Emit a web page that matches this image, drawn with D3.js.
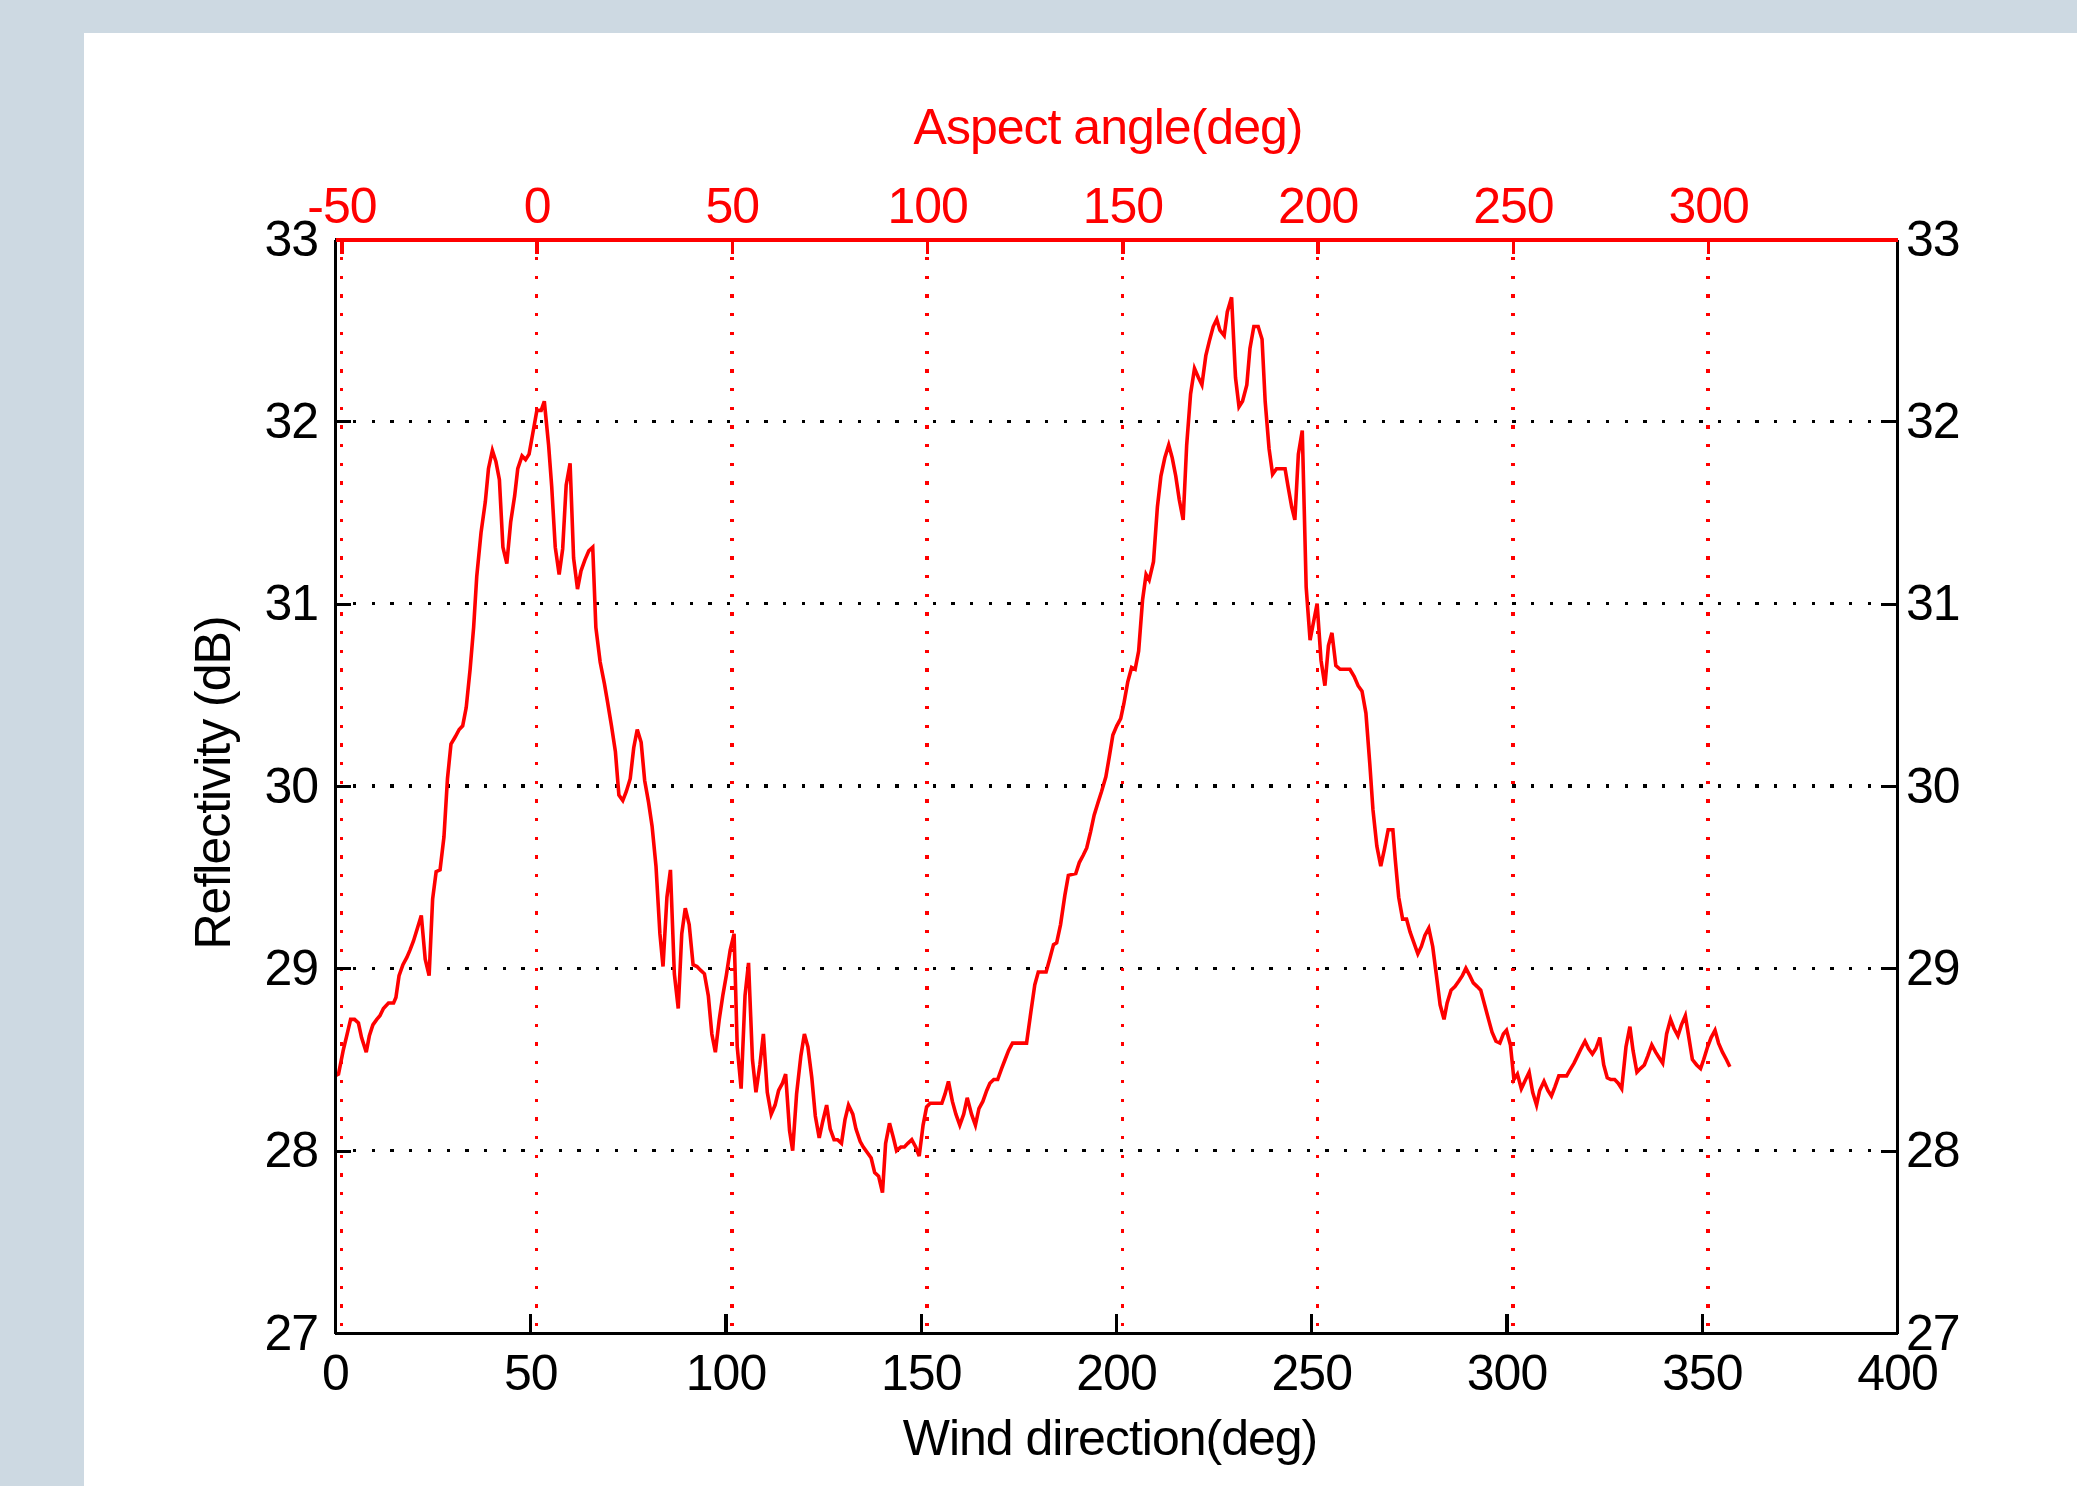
<!DOCTYPE html>
<html>
<head>
<meta charset="utf-8">
<script src="https://cdn.jsdelivr.net/npm/d3@7"></script>
<style>
  body { margin: 0; background: #cdd9e2; }
  svg { display: block; }
  text { font-family: "Liberation Sans", Arial, sans-serif; font-size: 50px; letter-spacing: -1px; }
</style>
</head>
<body>
<svg width="2077" height="1486"></svg>
<script>
// readings
const windDir = [
  0, 0.9, 2.1, 3, 4, 5, 6, 6.8, 8, 8.8,
  9.7, 10.7, 11.5, 12.4, 13.7, 15, 15.6, 16.4, 17.4, 18.4,
  19.2, 20.1, 21.1, 22.1, 23.1, 24.1, 25, 25.9, 26.9, 27.9,
  28.8, 29.7, 30.8, 31.8, 32.7, 33.6, 34.6, 35.5, 36.3, 37.4,
  38.5, 39.3, 40.3, 41.2, 42.1, 43, 44, 45, 46, 46.8,
  47.9, 48.8, 49.7, 50.7, 51.7, 52.8, 53.6, 54.7, 55.5, 56.4,
  57.4, 58.3, 59.2, 60.2, 61.1, 62.1, 63, 64, 65, 66,
  66.8, 67.9, 69, 69.8, 70.8, 71.8, 72.7, 73.7, 74.6, 75.6,
  76.5, 77.4, 78.4, 79.3, 80.3, 81.2, 82.2, 83.2, 84, 85,
  85.9, 86.9, 87.9, 88.8, 89.7, 90.7, 91.7, 92.7, 93.6, 94.6,
  95.6, 96.5, 97.4, 98.4, 99.3, 100.2, 101.2, 102.2, 103, 104,
  105, 105.9, 106.9, 107.8, 108.8, 109.7, 110.7, 111.7, 112.7, 113.6,
  114.6, 115.4, 116.4, 117.2, 118.2, 119.3, 120.2, 121.1, 122.1, 123,
  124, 124.9, 125.9, 126.8, 127.8, 128.7, 129.7, 130.6, 131.5, 132.6,
  133.4, 134.5, 135.3, 136.3, 137.3, 138.2, 139.2, 140.2, 141, 142,
  143, 143.8, 144.9, 145.8, 146.7, 147.7, 148.7, 149.6, 150.6, 151.5,
  152.4, 154, 155.4, 156.2, 157.1, 158.1, 159, 160, 161, 161.9,
  163, 164, 164.9, 165.9, 166.9, 167.7, 168.7, 169.7, 170.7, 171.6,
  172.5, 173.5, 177.1, 178.2, 179.2, 180.1, 182.1, 183, 184, 184.8,
  185.8, 186.9, 187.8, 189.7, 190.6, 191.6, 192.5, 193.5, 194.4, 195.4,
  196.3, 197.4, 198.2, 199.2, 200.2, 201.2, 202, 203, 204, 204.9,
  205.8, 206.8, 207.7, 208.5, 209.6, 210.6, 211.5, 212.5, 213.5, 214.4,
  215.3, 216.2, 217.2, 218.1, 219.1, 220.1, 221.1, 222, 223, 223.9,
  224.9, 225.8, 226.6, 227.7, 228.5, 229.6, 230.6, 231.5, 232.4, 233.5,
  234.3, 235.3, 236.4, 237.4, 238.2, 239.2, 240.1, 241.1, 243.3, 244,
  245, 245.8, 246.7, 247.7, 248.7, 249.7, 250.5, 251.5, 252.5, 253.5,
  254.4, 255.3, 256.3, 257.4, 259.9, 261, 262, 263, 264, 265,
  265.8, 266.8, 267.8, 268.7, 269.7, 270.9, 271.5, 272.4, 273.4, 274.4,
  275.3, 276.3, 277.3, 278.2, 279.1, 280.1, 281.1, 282, 283, 284,
  284.8, 285.8, 286.8, 287.8, 288.7, 289.6, 290.6, 291.5, 292.5, 293.4,
  294.4, 295.4, 296.3, 297.3, 298.3, 299.2, 300, 301, 301.9, 302.8,
  303.8, 304.9, 305.8, 306.7, 307.7, 308.5, 309.6, 310.6, 311.5, 312.4,
  313.4, 315.4, 316.2, 317.3, 318.2, 319.1, 320.1, 321, 322, 322.9,
  323.9, 324.9, 325.8, 326.7, 327.7, 328.6, 329.5, 330.6, 331.6, 332.4,
  333.4, 334.3, 335.3, 336.2, 337.2, 338.2, 339.1, 340, 341, 342,
  342.9, 343.9, 344.8, 345.8, 346.7, 347.6, 348.7, 349.7, 350.5, 351.5,
  352.4, 353.4, 354.3, 355.3, 356.3, 357.2
];

const reflectivity = [
  28.41, 28.42, 28.55, 28.63, 28.72, 28.72, 28.70, 28.62, 28.54, 28.63,
  28.69, 28.72, 28.74, 28.78, 28.81, 28.81, 28.84, 28.96, 29.02, 29.06,
  29.10, 29.15, 29.22, 29.29, 29.05, 28.96, 29.38, 29.53, 29.54, 29.72,
  30.04, 30.23, 30.27, 30.31, 30.33, 30.43, 30.64, 30.87, 31.15, 31.39,
  31.56, 31.74, 31.84, 31.78, 31.68, 31.31, 31.22, 31.45, 31.59, 31.74,
  31.81, 31.79, 31.82, 31.94, 32.06, 32.06, 32.11, 31.87, 31.64, 31.31,
  31.16, 31.30, 31.65, 31.77, 31.25, 31.08, 31.18, 31.24, 31.29, 31.31,
  30.87, 30.68, 30.56, 30.46, 30.33, 30.19, 29.95, 29.92, 29.97, 30.04,
  30.21, 30.31, 30.24, 30.03, 29.91, 29.78, 29.56, 29.19, 29.01, 29.39,
  29.54, 28.97, 28.78, 29.19, 29.33, 29.24, 29.02, 29.01, 28.99, 28.97,
  28.85, 28.64, 28.54, 28.72, 28.85, 28.96, 29.10, 29.19, 28.57, 28.34,
  28.85, 29.03, 28.50, 28.32, 28.47, 28.64, 28.32, 28.20, 28.25, 28.33,
  28.37, 28.42, 28.11, 28.00, 28.31, 28.52, 28.64, 28.57, 28.40, 28.19,
  28.07, 28.16, 28.25, 28.12, 28.06, 28.06, 28.04, 28.17, 28.25, 28.20,
  28.12, 28.05, 28.02, 27.99, 27.96, 27.88, 27.86, 27.77, 28.04, 28.15,
  28.07, 28.00, 28.02, 28.02, 28.04, 28.06, 28.02, 27.97, 28.14, 28.24,
  28.26, 28.26, 28.26, 28.31, 28.38, 28.27, 28.20, 28.14, 28.20, 28.29,
  28.20, 28.14, 28.23, 28.27, 28.33, 28.37, 28.39, 28.39, 28.45, 28.50,
  28.55, 28.59, 28.59, 28.76, 28.91, 28.98, 28.98, 29.05, 29.13, 29.14,
  29.24, 29.40, 29.51, 29.52, 29.58, 29.62, 29.66, 29.75, 29.84, 29.91,
  29.97, 30.05, 30.15, 30.28, 30.33, 30.37, 30.45, 30.57, 30.65, 30.64,
  30.74, 31.02, 31.16, 31.13, 31.23, 31.53, 31.70, 31.80, 31.87, 31.80,
  31.70, 31.57, 31.46, 31.87, 32.15, 32.29, 32.24, 32.20, 32.36, 32.44,
  32.52, 32.56, 32.50, 32.47, 32.60, 32.68, 32.24, 32.08, 32.11, 32.20,
  32.40, 32.52, 32.52, 32.45, 32.11, 31.85, 31.71, 31.74, 31.74, 31.65,
  31.53, 31.46, 31.82, 31.95, 31.09, 30.80, 30.89, 31.00, 30.69, 30.55,
  30.77, 30.84, 30.66, 30.64, 30.64, 30.60, 30.55, 30.52, 30.40, 30.12,
  29.87, 29.67, 29.56, 29.65, 29.76, 29.76, 29.60, 29.39, 29.27, 29.27,
  29.20, 29.14, 29.08, 29.12, 29.18, 29.22, 29.12, 28.97, 28.80, 28.72,
  28.81, 28.88, 28.90, 28.93, 28.96, 29.00, 28.96, 28.92, 28.90, 28.88,
  28.80, 28.72, 28.65, 28.60, 28.59, 28.64, 28.66, 28.58, 28.39, 28.42,
  28.34, 28.39, 28.43, 28.32, 28.25, 28.33, 28.38, 28.33, 28.30, 28.35,
  28.41, 28.41, 28.44, 28.48, 28.52, 28.56, 28.60, 28.56, 28.53, 28.56,
  28.62, 28.47, 28.40, 28.39, 28.39, 28.37, 28.34, 28.57, 28.68, 28.55,
  28.43, 28.45, 28.47, 28.52, 28.58, 28.54, 28.51, 28.48, 28.64, 28.72,
  28.67, 28.63, 28.69, 28.74, 28.62, 28.50, 28.47, 28.45, 28.50, 28.57,
  28.62, 28.66, 28.59, 28.54, 28.50, 28.46
];

const windTicks = [0, 50, 100, 150, 200, 250, 300, 350, 400];
const aspectTicks = [-50, 0, 50, 100, 150, 200, 250, 300];
const reflTicks = [27, 28, 29, 30, 31, 32, 33];
const aspectOffset = 51.63; // wind direction where aspect angle is 0

const svg = d3.select("svg");
const plotLeft = 335, plotRight = 1897, plotTop = 239, plotBottom = 1333;

svg.append("rect").attr("x", 84).attr("y", 33).attr("width", 2077 - 84).attr("height", 1486 - 33).attr("fill", "#fff");

const x = d3.scaleLinear().domain([0, 400]).range([plotLeft, plotRight]);
const xTop = d3.scaleLinear().domain([-aspectOffset, 400 - aspectOffset]).range([plotLeft, plotRight]);
const y = d3.scaleLinear().domain([27, 33]).range([plotBottom, plotTop]);

// dotted grids
svg.append("g").attr("shape-rendering", "crispEdges")
  .selectAll("line").data(reflTicks.slice(1, -1)).enter()
  .append("line")
  .attr("x1", plotLeft + 18).attr("x2", plotRight - 18)
  .attr("y1", d => y(d)).attr("y2", d => y(d))
  .attr("stroke", "#000").attr("stroke-width", 3.3)
  .attr("stroke-dasharray", "3.3,15.4");

svg.append("g").attr("shape-rendering", "crispEdges")
  .selectAll("line").data(aspectTicks).enter()
  .append("line")
  .attr("x1", d => xTop(d)).attr("x2", d => xTop(d))
  .attr("y1", plotTop + 18).attr("y2", plotBottom)
  .attr("stroke", "#f00").attr("stroke-width", 3.3)
  .attr("stroke-dasharray", "3.3,15.4");

// data
const points = windDir.map((w, i) => [w, reflectivity[i]]);
svg.append("path")
  .datum(points)
  .attr("fill", "none")
  .attr("stroke", "#f00")
  .attr("stroke-width", 3.6)
  .attr("stroke-linejoin", "miter")
  .attr("d", d3.line().x(d => x(d[0])).y(d => y(d[1])));

// axes
function styleAxis(g, color, width) {
  g.attr("color", color).attr("shape-rendering", "crispEdges");
  g.select(".domain").attr("stroke-width", width);
  g.selectAll(".tick line").attr("stroke-width", 3.3);
  g.selectAll("text").attr("font-size", null).attr("font-family", null);
}

svg.append("g").attr("transform", `translate(0,${plotBottom})`)
  .call(d3.axisBottom(x).tickValues(windTicks).tickFormat(d => String(d)).tickSizeInner(-19).tickSizeOuter(0).tickPadding(21))
  .call(g => styleAxis(g, "#000", 3.6));

svg.append("g").attr("transform", `translate(${plotLeft},0)`)
  .call(d3.axisLeft(y).tickValues(reflTicks).tickFormat(d => String(d)).tickSizeInner(-16).tickSizeOuter(0).tickPadding(17))
  .call(g => styleAxis(g, "#000", 3.4));

svg.append("g").attr("transform", `translate(${plotRight},0)`)
  .call(d3.axisRight(y).tickValues(reflTicks).tickFormat(d => String(d)).tickSizeInner(-16).tickSizeOuter(0).tickPadding(9))
  .call(g => styleAxis(g, "#000", 3.4));

svg.append("g").attr("transform", `translate(0,${plotTop})`)
  .call(d3.axisTop(xTop).tickValues(aspectTicks).tickFormat(d => String(d)).tickSizeInner(-15).tickSizeOuter(0).tickPadding(16))
  .call(g => styleAxis(g, "#f00", 4));

// axis titles
svg.append("text").attr("x", 1108).attr("y", 144).attr("text-anchor", "middle")
  .attr("fill", "#f00").text("Aspect angle(deg)");

svg.append("text").attr("x", 1110).attr("y", 1455).attr("text-anchor", "middle")
  .attr("fill", "#000").text("Wind direction(deg)");

svg.append("text").attr("transform", "translate(230,783) rotate(-90)").attr("text-anchor", "middle")
  .attr("fill", "#000").text("Reflectivity (dB)");
</script>
</body>
</html>
